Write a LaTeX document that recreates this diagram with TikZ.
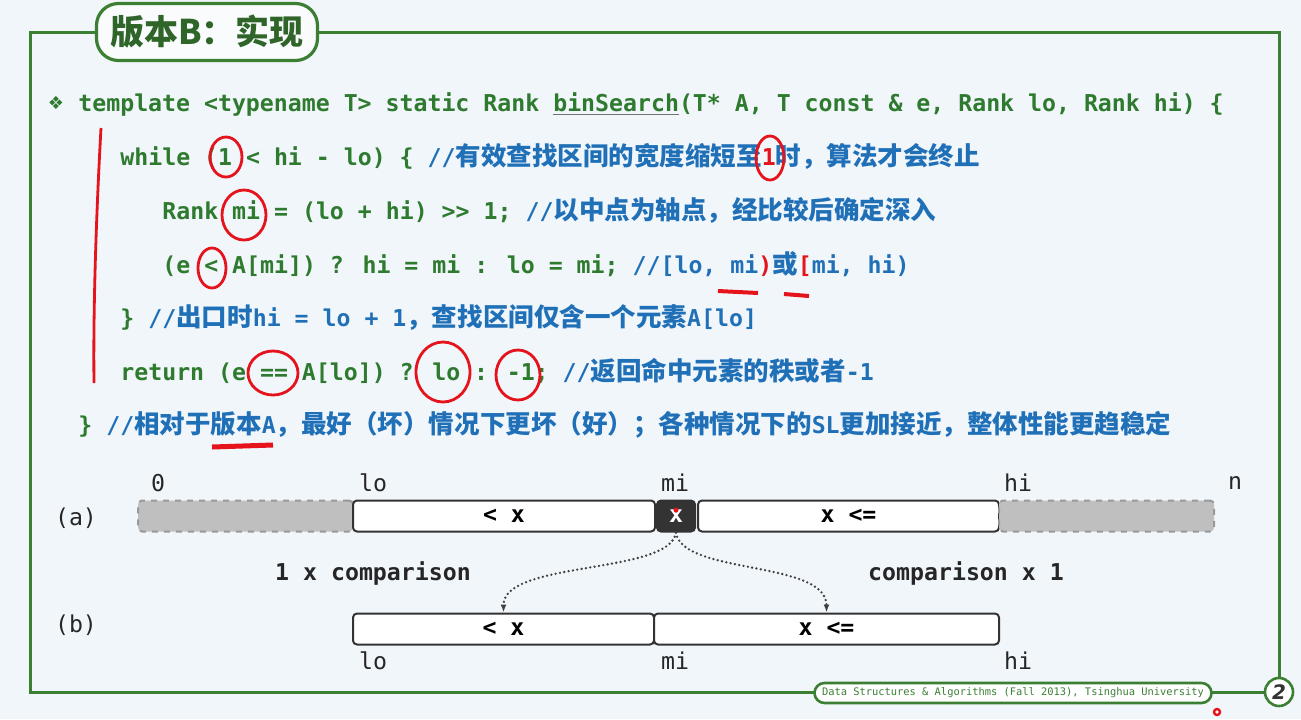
\documentclass[tikz,border=0pt]{standalone}
\usepackage{xcolor}
\usepackage{fontspec}
\usepackage{tikz}
\usetikzlibrary{calc}
\usetikzlibrary{arrows.meta}
\usetikzlibrary{positioning}

\newfontfamily\codefont{DejaVu Sans Mono}
\newfontfamily\cjkfont[Scale=1.1]{Noto Sans CJK SC}
\newfontfamily\titlefont{Noto Sans CJK SC}
\newfontfamily\symfont{DejaVu Sans}

\definecolor{bgblue}{HTML}{F1F6FB}
\definecolor{framegreen}{HTML}{3B7F33}
\definecolor{codegreen}{HTML}{2E7A2E}
\definecolor{cmtblue}{HTML}{2070B8}
\definecolor{annred}{HTML}{E5141C}

\newcommand{\cmt}[1]{{\color{cmtblue}#1}}
\newcommand{\zh}[1]{{\cjkfont\bfseries #1}}

\begin{document}
\begin{tikzpicture}[x=0.5pt,y=-0.5pt]
% 1 unit = 1 px of the slide, y runs down
    \def\ROWA{516} % centre of row (a)
    \def\ROWB{629} % centre of row (b)
    \def\LOX{373}
    \def\MIX{675}
    \def\HIX{1018}

    \tikzset{
      code/.style={anchor=base west, inner sep=0pt, text=codegreen,
        font=\codefont\bfseries\fontsize{11.6}{14}\selectfont},
      idx/.style={inner sep=0pt, text=black!85,
        font=\codefont\fontsize{11.6}{14}\selectfont},
      cell/.style={draw=black!80, fill=white, line width=1pt,
        rounded corners=2pt, minimum height=15.5pt, inner sep=0pt,
        font=\codefont\bfseries\fontsize{11.6}{14}\selectfont},
      ghost/.style={cell, draw=black!40, fill=black!25, dashed},
      pivot/.style={cell, fill=black!80, text=white},
      guess/.style={-{Latex[length=4pt,width=3pt]}, black!75,
        line width=1.3pt, dash pattern=on 0pt off 2.2pt, line cap=round},
      ann/.style={annred, line width=1.4pt},
      frame/.style={framegreen, line width=1.5pt},
    }

    % BACKGROUND
    \fill[bgblue] (0,0) rectangle (1301,719);
    \useasboundingbox (0,0) rectangle (1301,719);

    % FRAME
    \draw[frame] (30,32) -- (1279,32) -- (1279,692) -- (30,692) -- cycle;
    \node[draw=framegreen, line width=1.6pt, fill=white!60!bgblue,
          rounded corners=11pt, minimum width=110.5pt, minimum height=28.5pt,
          text=framegreen!80!black, font=\titlefont\bfseries\fontsize{17}{20}\selectfont]
        (title) at (207,32) {版本B：实现};

    % CODE
    \node[text=codegreen, font=\symfont\fontsize{9}{11}\selectfont]
        (bullet) at (56,103) {❖};
    \node[code] (sig) at (78,111) {template <typename T> static Rank
        {\color{black!55}\underline{\color{codegreen}binSearch}}(T* A, T const \& e, Rank lo, Rank hi) \{};
    \node[code] (loop) at (120,165) {while (1 < hi - lo) \{
        \cmt{//\zh{有效查找区间的宽度缩短至}{\color{annred}1}\zh{时，算法才会终止}}};
    \node[code] (mid) at (162,219) {Rank mi = (lo + hi) >{}> 1;
        \cmt{//\zh{以中点为轴点，经比较后确定深入}}};
    \node[code] (cmp) at (162,273) {(e < A[mi]) ? hi = mi : lo = mi;
        \cmt{//[lo, mi{\color{annred})}\zh{或}{\color{annred}[}mi, hi)}};
    \node[code] (exit) at (120,326) {\}
        \cmt{//\zh{出口时}hi = lo + 1\zh{，查找区间仅含一个元素}A[lo]}};
    \node[code] (ret) at (120,380) {return (e == A[lo]) ? lo : -1;
        \cmt{//\zh{返回命中元素的秩或者}-1}};
    \node[code] (close) at (78,433) {\}
        \cmt{//\zh{相对于版本}A\zh{，最好（坏）情况下更坏（好）；各种情况下的}SL\zh{更加接近，整体性能更趋稳定}}};

    % RED MARKS
    \draw[ann] (101,128) .. controls (97,200) and (93,300) .. (94,383);
    \draw[ann] (226,157) ellipse [x radius=16, y radius=20];
    \draw[ann] (770,158) ellipse [x radius=14, y radius=22];
    \draw[ann] (244,215) ellipse [x radius=22, y radius=25];
    \draw[ann] (212,268) ellipse [x radius=14, y radius=20];
    \draw[ann] (273,373) ellipse [x radius=25, y radius=22];
    \draw[ann] (443,372) ellipse [x radius=27, y radius=30];
    \draw[ann] (518,375) ellipse [x radius=22, y radius=25];
    \draw[ann, line width=2pt] (718,291) -- (758,293);
    \draw[ann, line width=2pt] (784,294) -- (809,296);
    \draw[ann, line width=2.5pt] (212,447) -- (273,445);

    % ROW (a)
    \node[idx] (taga) at (76,518) {(a)};
    \node[ghost, minimum width=107.5pt] (aleft) at (245.5,\ROWA) {};
    \node[cell, minimum width=151pt] (alt) at (504,\ROWA) {< x};
    \node[pivot, minimum width=19pt] (ax) at (676,\ROWA) {x};
    \node[cell, minimum width=150.5pt] (age) at (848.5,\ROWA) {x <=};
    \node[ghost, minimum width=107.5pt] (aright) at (1106.5,\ROWA) {};
    \fill[annred] (676,510) circle (2.5);
    \node[idx] (zero) at (158,483) {0};
    \node[idx] (alo) at (\LOX,483) {lo};
    \node[idx] (ami) at (\MIX,483) {mi};
    \node[idx] (ahi) at (\HIX,483) {hi};
    \node[idx] (enn) at (1235,483) {n};

    % COMPARISON
    \node[idx, font=\codefont\bfseries\fontsize{11.6}{14}\selectfont]
        (lcmp) at (373,573) {1 x comparison};
    \node[idx, font=\codefont\bfseries\fontsize{11.6}{14}\selectfont]
        (rcmp) at (966,573) {comparison x 1};

    % ROW (b)
    \node[idx] (tagb) at (76,625) {(b)};
    \node[cell, minimum width=150.5pt] (blt) at (503.5,\ROWB) {< x};
    \node[cell, minimum width=172.5pt] (bge) at (826.5,\ROWB) {x <=};
    \node[idx] (blo) at (\LOX,661) {lo};
    \node[idx] (bmi) at (\MIX,661) {mi};
    \node[idx] (bhi) at (\HIX,661) {hi};

    \draw[guess] (ax.south) .. controls (670,575) and (503.5,560) .. (blt.north);
    \draw[guess] (ax.south) .. controls (682,575) and (826.5,560) .. (bge.north);

    % FOOTER
    \node[draw=framegreen, line width=1.3pt, fill=white, rounded corners=5pt,
          minimum width=198.5pt, minimum height=10pt, inner sep=0pt,
          text=framegreen, font=\codefont\fontsize{5.2}{6}\selectfont]
        (foot) at (1013,693) {Data Structures \& Algorithms (Fall 2013), Tsinghua University};
    \node[circle, draw=framegreen, line width=1.3pt, fill=white,
          minimum size=14pt, inner sep=0pt, text=black!80,
          font=\symfont\bfseries\itshape\fontsize{10}{12}\selectfont]
        (page) at (1279,692) {2};
    \draw[annred, line width=1.2pt] (1217,712) circle (3);

\end{tikzpicture}
\end{document}
